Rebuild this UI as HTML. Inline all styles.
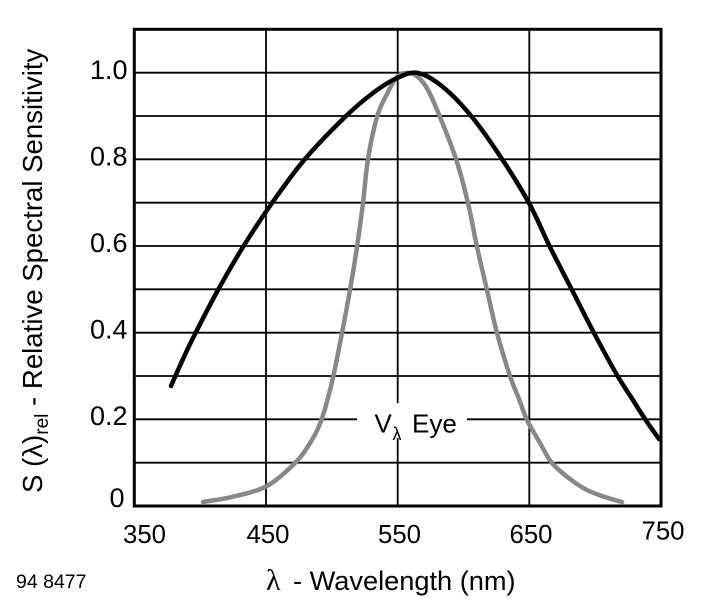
<!DOCTYPE html>
<html><head><meta charset="utf-8"><style>html,body{margin:0;padding:0;background:#fff;}svg{display:block;}</style></head>
<body>
<svg width="727" height="603" viewBox="0 0 727 603" xmlns="http://www.w3.org/2000/svg">
<rect width="727" height="603" fill="#fff"/>
<g stroke="#000" stroke-width="1.8" fill="none">
<line x1="134.3" y1="462.7" x2="661" y2="462.7"/>
<line x1="134.3" y1="419.3" x2="661" y2="419.3"/>
<line x1="134.3" y1="376" x2="661" y2="376"/>
<line x1="134.3" y1="332.7" x2="661" y2="332.7"/>
<line x1="134.3" y1="289.3" x2="661" y2="289.3"/>
<line x1="134.3" y1="246" x2="661" y2="246"/>
<line x1="134.3" y1="202.7" x2="661" y2="202.7"/>
<line x1="134.3" y1="159.3" x2="661" y2="159.3"/>
<line x1="134.3" y1="116" x2="661" y2="116"/>
<line x1="134.3" y1="72.7" x2="661" y2="72.7"/>
<line x1="266" y1="29.3" x2="266" y2="506"/>
<line x1="397.7" y1="29.3" x2="397.7" y2="506"/>
<line x1="529.3" y1="29.3" x2="529.3" y2="506"/>
</g>
<rect x="357" y="403" width="110" height="35" fill="#fff"/>
<rect x="134.3" y="29.3" width="526.7" height="476.7" fill="none" stroke="#000" stroke-width="3"/>
<polyline id="gray" fill="none" stroke="#888" stroke-width="4.5" stroke-linejoin="round" stroke-linecap="round"
points="203,502 233,496.7 267,486 295,463 310,443 321,421 332,382 342,333 350,290 357,247 363,203 368,159 377,117 386,96 397,77 408,73 418,77 428,90 440,117 456,159 468,203 477,247 487,290 497,333 510,376 519,399 527,420 540,443 552,463 570,479 587,490 605,497 622,502"/>
<polyline id="black" fill="none" stroke="#000" stroke-width="4.5" stroke-linejoin="round" stroke-linecap="round"
points="171,386 183,359 195,334 218,290 243,247 272,203 305,159 345,117 373,93 397,78 418,73 443,87 472,117 502,159 529,203 550,247 572,290 594,333 617,375 631,397 645,419 659,439"/>
<g font-family="Liberation Sans, Arial, sans-serif" fill="#000">
<g font-size="27" text-anchor="end">
<text x="127.5" y="79">1.0</text>
<text x="127.5" y="165.5">0.8</text>
<text x="127.5" y="252">0.6</text>
<text x="127.5" y="338.5">0.4</text>
<text x="127.5" y="425">0.2</text>
<text x="124.5" y="507">0</text>
</g>
<g font-size="25.8" text-anchor="middle">
<text x="144.5" y="543">350</text>
<text x="268" y="543">450</text>
<text x="399.5" y="543">550</text>
<text x="531" y="543">650</text>
<text x="663" y="539.5">750</text>
</g>
<text x="374.5" y="432.5" font-size="26">V</text>
<text x="392.5" y="440" font-size="18">λ</text>
<text x="412" y="432.5" font-size="26">Eye</text>
<text x="266" y="590" font-size="30" font-family="Liberation Serif, serif">λ</text>
<text x="293" y="590" font-size="27.2">- Wavelength (nm)</text>
<text x="16" y="588" font-size="19.5">94 8477</text>
<text transform="translate(42,493) rotate(-90)" font-size="27.6">S (λ)<tspan font-size="19" dy="6">rel</tspan><tspan dy="-6"> - Relative Spectral Sensitivity</tspan></text>
</g>
</svg>
<script>
(function(){
  var ns="http://www.w3.org/2000/svg";
  ["gray","black"].forEach(function(id){
    var pl=document.getElementById(id);
    var pts=pl.getAttribute("points").trim().split(/\s+/).map(function(s){var a=s.split(",");return [parseFloat(a[0]),parseFloat(a[1])];});
    var d="M"+pts[0][0]+","+pts[0][1];
    for(var i=0;i<pts.length-1;i++){
      var p0=pts[i>0?i-1:i],p1=pts[i],p2=pts[i+1],p3=pts[i+2<pts.length?i+2:i+1];
      var c1x=p1[0]+(p2[0]-p0[0])/6,c1y=p1[1]+(p2[1]-p0[1])/6;
      var c2x=p2[0]-(p3[0]-p1[0])/6,c2y=p2[1]-(p3[1]-p1[1])/6;
      d+=" C"+c1x.toFixed(2)+","+c1y.toFixed(2)+" "+c2x.toFixed(2)+","+c2y.toFixed(2)+" "+p2[0]+","+p2[1];
    }
    var p=document.createElementNS(ns,"path");
    p.setAttribute("d",d);
    ["fill","stroke","stroke-width","stroke-linejoin","stroke-linecap"].forEach(function(a){p.setAttribute(a,pl.getAttribute(a));});
    pl.parentNode.replaceChild(p,pl);
  });
})();
</script>
</body></html>
